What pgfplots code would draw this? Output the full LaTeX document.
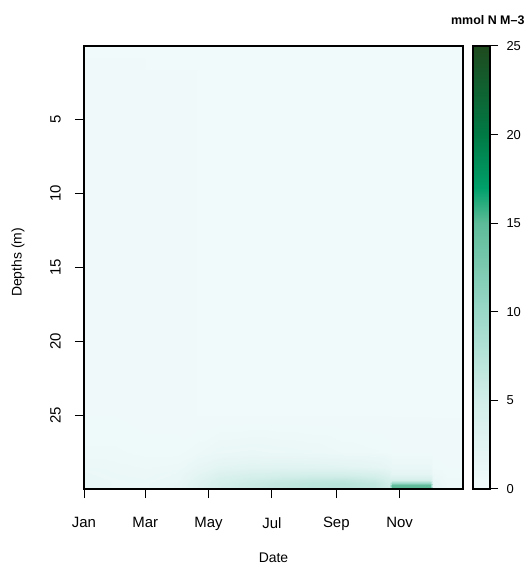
\documentclass[border=0pt]{standalone}
\usepackage{fontspec}
\setmainfont{Liberation Sans}
\usepackage{pgfplots}
\usepackage{pgfplotstable}
\pgfplotsset{compat=1.18}

% Nitrate concentration (mmol N m^-3) on a day-of-year x depth grid
% 17 days per scan line, 9 depth levels
\pgfplotstableread{
day depth val
0 0 0.2
30 0 0.2
60 0 0.2
90 0 0.2
110 0 0.2
130 0 0.2
160 0 0.2
190 0 0.2
220 0 0.2
250 0 0.2
280 0 0.2
294 0 0.2
297 0 0.2
333 0 0.2
336 0 0.2
350 0 0.2
365 0 0.2
0 25 0.4
30 25 0.4
60 25 0.3
90 25 0.3
110 25 0.2
130 25 0.2
160 25 0.2
190 25 0.2
220 25 0.2
250 25 0.2
280 25 0.2
294 25 0.2
297 25 0.2
333 25 0.2
336 25 0.2
350 25 0.2
365 25 0.2
0 27.5 0.6
30 27.5 0.6
60 27.5 0.5
90 27.5 0.5
110 27.5 0.7
130 27.5 1.0
160 27.5 1.1
190 27.5 1.0
220 27.5 0.9
250 27.5 0.7
280 27.5 0.6
294 27.5 0.5
297 27.5 0.4
333 27.5 0.4
336 27.5 0.3
350 27.5 0.3
365 27.5 0.3
0 28.5 0.9
30 28.5 0.8
60 28.5 0.7
90 28.5 0.8
110 28.5 1.6
130 28.5 2.3
160 28.5 2.6
190 28.5 2.7
220 28.5 2.6
250 28.5 2.4
280 28.5 2.0
294 28.5 1.5
297 28.5 1.2
333 28.5 1.2
336 28.5 0.5
350 28.5 0.4
365 28.5 0.4
0 29.0 1.1
30 29.0 0.9
60 29.0 0.8
90 29.0 1.1
110 29.0 2.2
130 29.0 3.4
160 29.0 4.0
190 29.0 4.4
220 29.0 4.6
250 29.0 4.6
280 29.0 4.0
294 29.0 3.0
297 29.0 2.0
333 29.0 2.0
336 29.0 0.8
350 29.0 0.5
365 29.0 0.5
0 29.4 1.2
30 29.4 1.0
60 29.4 0.9
90 29.4 1.3
110 29.4 2.8
130 29.4 4.3
160 29.4 5.2
190 29.4 5.8
220 29.4 6.3
250 29.4 6.5
280 29.4 5.8
294 29.4 4.5
297 29.4 4.5
333 29.4 4.5
336 29.4 1.2
350 29.4 0.6
365 29.4 0.6
0 29.6 1.3
30 29.6 1.0
60 29.6 1.0
90 29.6 1.5
110 29.6 3.0
130 29.6 4.6
160 29.6 5.6
190 29.6 6.3
220 29.6 6.9
250 29.6 7.2
280 29.6 6.5
294 29.6 5.0
297 29.6 10.0
333 29.6 10.0
336 29.6 1.4
350 29.6 0.7
365 29.6 0.7
0 29.7 1.3
30 29.7 1.0
60 29.7 1.0
90 29.7 1.6
110 29.7 3.1
130 29.7 4.7
160 29.7 5.7
190 29.7 6.4
220 29.7 7.0
250 29.7 7.3
280 29.7 6.6
294 29.7 5.1
297 29.7 14.5
333 29.7 14.5
336 29.7 1.5
350 29.7 0.7
365 29.7 0.7
0 30 1.3
30 30 1.0
60 30 1.0
90 30 1.6
110 30 3.2
130 30 4.8
160 30 5.8
190 30 6.5
220 30 7.1
250 30 7.4
280 30 6.7
294 30 5.2
297 30 15.5
333 30 15.5
336 30 1.6
350 30 0.7
365 30 0.7
}\nitrate

% Colour key: the scale values at the break points of the colour map
\pgfplotstableread{
x lev
0 0
1 0
0 5
1 5
0 10
1 10
0 15
1 15
0 17
1 17
0 20
1 20
0 25
1 25
}\keyscale

\pgfplotsset{
  colormap={nitro}{
    rgb255(0)=(241,250,251)
    rgb255(5)=(210,238,233)
    rgb255(10)=(154,216,200)
    rgb255(15)=(93,187,152)
    rgb255(17)=(0,160,106)
    rgb255(20)=(0,122,69)
    rgb255(25)=(30,74,30)
  },
  every axis/.append style={
    colormap name=nitro, point meta min=0, point meta max=25,
    tick align=outside,
    tick style={line width=1bp, black},
    /pgf/number format/assume math mode=true,
  },
}

\begin{document}
\begin{tikzpicture}
\path[use as bounding box] (0,0) rectangle (529bp,568bp);
% main depth-time section
\begin{axis}[
  at={(84bp,79bp)}, anchor=south west,
  scale only axis, width=379bp, height=443bp,
  xmin=0, xmax=365, ymin=0, ymax=30, y dir=reverse,
  axis on top,
  xtick={0,59,120,181,243,304},
  xticklabels={Jan,Mar,May,Jul,Sep,Nov},
  ytick={5,10,15,20,25},
  xtick pos=bottom, ytick pos=left,
  major tick length=9bp,
  axis line style={line width=1.1bp, black},
  tick label style={font=\fontsize{15}{17}\selectfont},
  xticklabel style={yshift=-16bp},
  yticklabel style={rotate=90, anchor=south, inner ysep=14bp},
]
\addplot[surf, shader=interp, mesh/cols=17, point meta=explicit]
  table[x=day, y=depth, meta=val] {\nitrate};
\end{axis}
% colour key
\begin{axis}[
  at={(473bp,79bp)}, anchor=south west,
  scale only axis, width=17bp, height=443bp,
  xmin=0, xmax=1, ymin=0, ymax=25,
  axis on top,
  xtick=\empty,
  ytick={0,5,10,15,20,25}, ytick pos=right, yticklabel pos=right,
  major tick length=8bp,
  axis line style={line width=1.6bp, black},
  yticklabel style={font=\fontsize{13}{15}\selectfont, xshift=5bp},
]
\addplot[surf, shader=interp, mesh/cols=2, point meta=explicit]
  table[x=x, y=lev, meta=lev] {\keyscale};
\end{axis}
\node[font=\fontsize{14}{16}\selectfont] at (273.5bp,10bp) {Date};
\node[rotate=90, font=\fontsize{14}{16}\selectfont] at (18bp,305.5bp) {Depths (m)};
\node[anchor=east, font=\bfseries\fontsize{12.5}{15}\selectfont] at (528bp,548bp) {mmol N M\textendash 3};
\end{tikzpicture}
\end{document}
